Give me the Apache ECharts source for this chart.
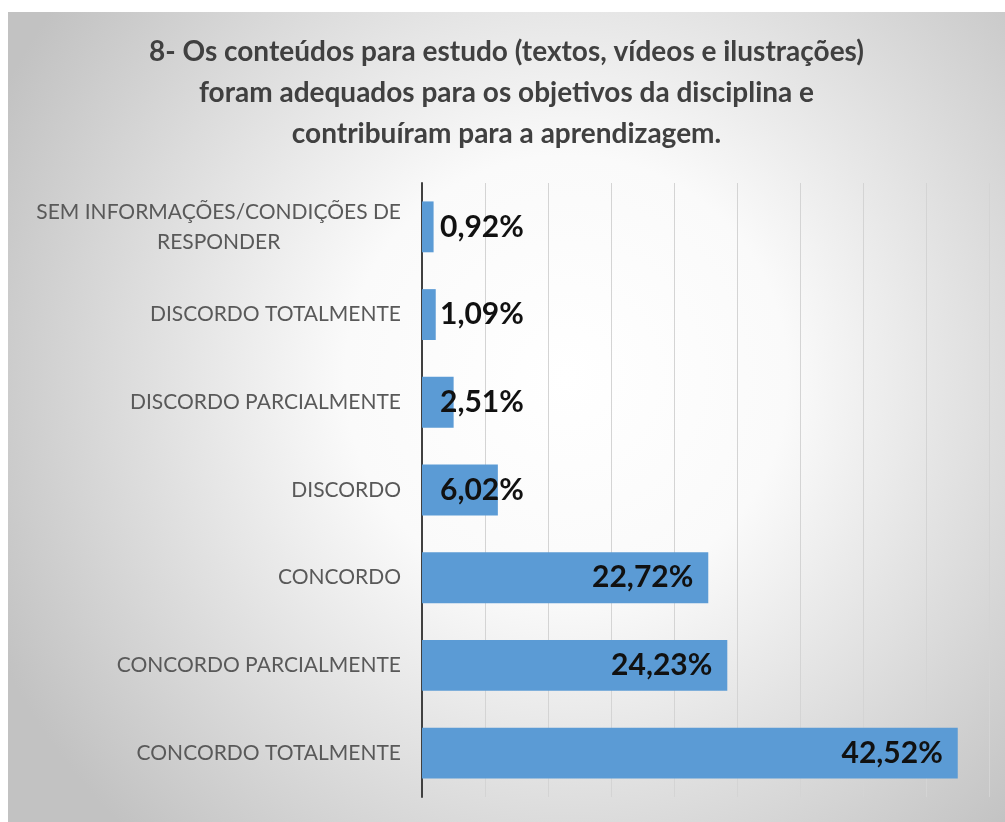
<!DOCTYPE html>
<html>
<head>
<meta charset="utf-8">
<script src="https://cdn.jsdelivr.net/npm/echarts@6/dist/echarts.min.js"></script>
<style>
  html, body { margin: 0; padding: 0; background: #ffffff; }
  #chart {
    position: absolute;
    left: 8px;
    top: 12px;
    width: 997px;
    height: 810px;
  }
</style>
</head>
<body>
<div id="chart"></div>
<script>
// categories, top to bottom
var categories = [
  "SEM INFORMAÇÕES/CONDIÇÕES DE\nRESPONDER",
  "DISCORDO TOTALMENTE",
  "DISCORDO PARCIALMENTE",
  "DISCORDO",
  "CONCORDO",
  "CONCORDO PARCIALMENTE",
  "CONCORDO TOTALMENTE"
];
var percentValues = [0.92, 1.09, 2.51, 6.02, 22.72, 24.23, 42.52];
var titleLines = [
  "8- Os conteúdos para estudo (textos, vídeos e ilustrações)",
  "foram adequados para os objetivos da disciplina e",
  "contribuíram para a aprendizagem."
];

var myChart = echarts.init(document.getElementById("chart"));

// small bars: label sits after the axis, big bars: label inside the end
var barData = percentValues.map(function (v) {
  var small = v < 10;
  return {
    value: v,
    label: {
      position: small ? "insideLeft" : "insideRight",
      distance: small ? 18 : 15
    }
  };
});

var option = {
  backgroundColor: {
    type: "radial",
    x: 0.56,
    y: 0.45,
    r: 0.78,
    colorStops: [
      { offset: 0, color: "#ffffff" },
      { offset: 0.35, color: "#fafafa" },
      { offset: 1, color: "#c2c2c2" }
    ]
  },
  title: {
    text: titleLines.join("\n"),
    left: "center",
    top: 14,
    textStyle: {
      fontFamily: "Lato",
      fontWeight: "bold",
      fontSize: 28,
      lineHeight: 41,
      color: "#404040"
    }
  },
  grid: {
    left: 414,
    right: 16,
    top: 171,
    bottom: 25
  },
  xAxis: {
    type: "value",
    min: 0,
    max: 45,
    interval: 5,
    axisLine: { show: false },
    axisTick: { show: false },
    axisLabel: { show: false },
    splitLine: {
      show: true,
      lineStyle: { color: "#d4d4d4", width: 1 }
    }
  },
  yAxis: {
    type: "category",
    inverse: true,
    data: categories,
    axisLine: {
      show: true,
      lineStyle: { color: "#404040", width: 2 }
    },
    axisTick: { show: false },
    axisLabel: {
      margin: 21,
      formatter: function (v) {
        return v.split("\n").map(function (s) { return "{c|" + s + "}"; }).join("\n");
      },
      rich: {
        c: {
          align: "center",
          fontFamily: "Lato",
          fontSize: 21,
          lineHeight: 30,
          color: "#595959"
        }
      }
    }
  },
  series: [
    {
      type: "bar",
      data: barData,
      barCategoryGap: "42%",
      itemStyle: { color: "#5b9bd5" },
      label: {
        show: true,
        fontFamily: "Lato",
        fontWeight: "bold",
        fontSize: 30,
        color: "#111111",
        formatter: function (p) {
          return p.value.toFixed(2).replace(".", ",") + "%";
        }
      }
    }
  ]
};

myChart.setOption(option);
</script>
</body>
</html>
